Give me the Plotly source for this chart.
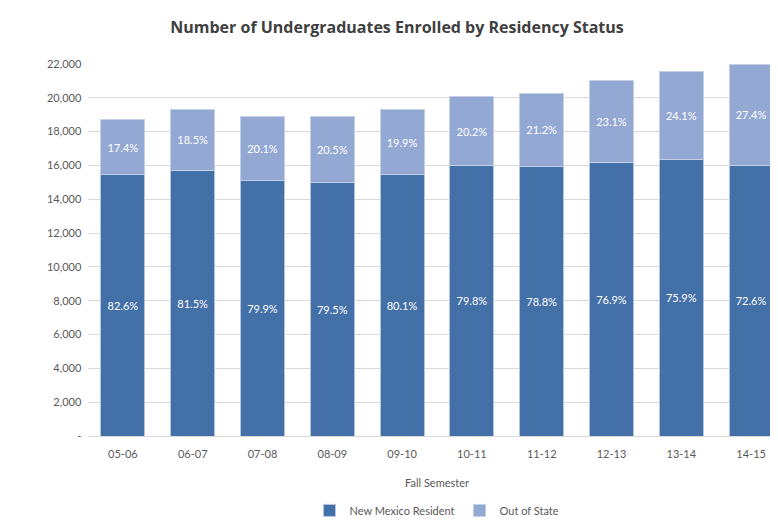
import plotly.graph_objects as go

# Fall semesters and headcounts
semesters = ["05-06", "06-07", "07-08", "08-09", "09-10",
             "10-11", "11-12", "12-13", "13-14", "14-15"]
resident = [15450, 15730, 15100, 15020, 15450, 16000, 15950, 16150, 16350, 15970]
out_of_state = [3250, 3570, 3800, 3880, 3850, 4050, 4300, 4850, 5200, 6030]

totals = [r + o for r, o in zip(resident, out_of_state)]
resident_pct = [f"{r / t * 100:.1f}%" for r, t in zip(resident, totals)]
out_pct = [f"{o / t * 100:.1f}%" for o, t in zip(out_of_state, totals)]

FONT = "Lato, 'Open Sans', sans-serif"
DARK_BLUE = "#4470A8"
LIGHT_BLUE = "#93A9D3"

fig = go.Figure()

fig.add_trace(go.Bar(
    x=semesters,
    y=resident,
    name="New Mexico Resident",
    marker=dict(color=DARK_BLUE, line=dict(color="#B4C4E0", width=1)),
    text=resident_pct,
    textposition="inside",
    insidetextanchor="middle",
    textfont=dict(color="white", size=11, family=FONT),
))

fig.add_trace(go.Bar(
    x=semesters,
    y=out_of_state,
    name="Out of State",
    marker=dict(color=LIGHT_BLUE, line=dict(color="#C3D0E8", width=1)),
    text=out_pct,
    textposition="inside",
    insidetextanchor="middle",
    textfont=dict(color="white", size=11, family=FONT),
))

fig.update_layout(
    barmode="stack",
    bargap=0.37,
    width=778,
    height=522,
    margin=dict(l=80, r=0, t=56, b=94),
    paper_bgcolor="white",
    plot_bgcolor="white",
    font=dict(family=FONT, color="#595959", size=11),
    title=dict(
        text="<b>Number of Undergraduates Enrolled by Residency Status</b>",
        x=0.5,
        xanchor="center",
        y=0.962,
        yanchor="middle",
        font=dict(size=16, color="#404040", family="'Open Sans', sans-serif"),
    ),
    xaxis=dict(
        type="category",
        title=dict(text="Fall Semester", font=dict(size=11, color="#595959"), standoff=20),
        showgrid=False,
        showline=True,
        linecolor="#D9D9D9",
        ticks="",
        ticklabelstandoff=8,
        tickfont=dict(size=11, color="#595959"),
    ),
    yaxis=dict(
        range=[0, 22000],
        dtick=2000,
        tickformat=",",
        showgrid=True,
        gridcolor="#D9D9D9",
        gridwidth=1,
        zeroline=False,
        ticks="",
        tickfont=dict(size=11, color="#595959"),
        ticksuffix="  ",
        labelalias={"0  ": "-  ", "0": "-"},
    ),
    legend=dict(
        orientation="h",
        traceorder="normal",
        x=0.5,
        xanchor="center",
        y=-0.2,
        yanchor="middle",
        font=dict(size=11, color="#595959"),
        itemwidth=30,
    ),
    uniformtext=dict(minsize=8, mode="show"),
)

fig.write_html("out.html")
